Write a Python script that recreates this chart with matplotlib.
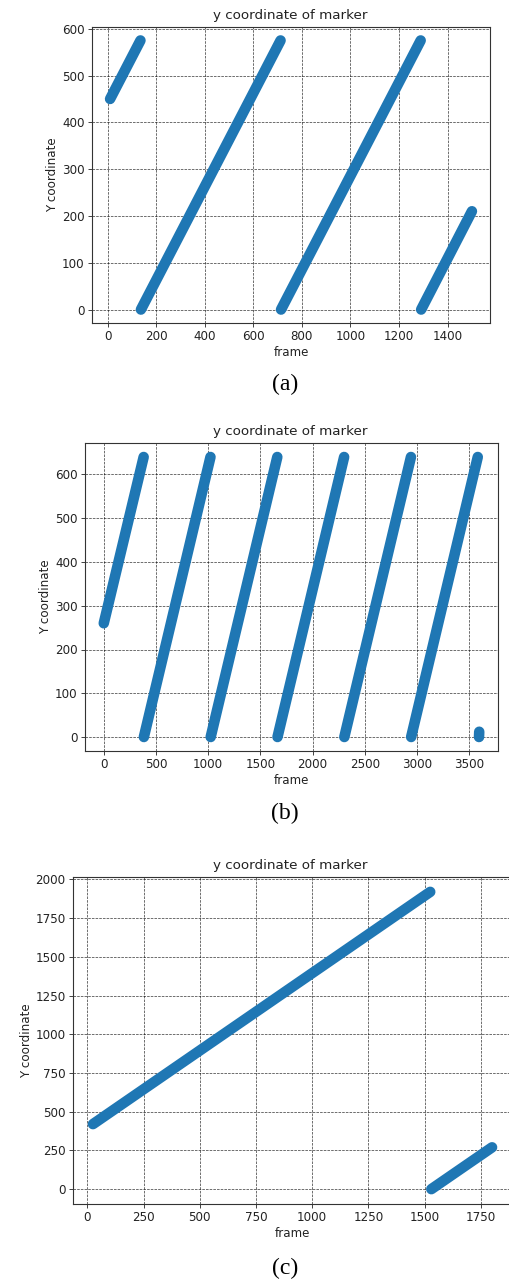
import matplotlib
matplotlib.use("Agg")
import matplotlib.pyplot as plt

# Tracked marker: each run is (start frame, end frame, start y, end y)
runs_a_frames = [(10, 135), (137, 712), (714, 1289), (1291, 1500)]
runs_a_y = [(450, 575), (0, 575), (0, 575), (0, 210)]

runs_b_frames = [(0, 382), (384, 1022), (1024, 1662), (1664, 2302),
                 (2304, 2942), (2944, 3582), (3594, 3596)]
runs_b_y = [(260, 640), (0, 640), (0, 640), (0, 640),
            (0, 640), (0, 640), (0, 12)]

runs_c_frames = [(25, 1525), (1530, 1800)]
runs_c_y = [(420, 1920), (0, 270)]

xticks_a = [0, 200, 400, 600, 800, 1000, 1200, 1400]
yticks_a = [0, 100, 200, 300, 400, 500, 600]
xticks_b = [0, 500, 1000, 1500, 2000, 2500, 3000, 3500]
yticks_b = [0, 100, 200, 300, 400, 500, 600]
xticks_c = [0, 250, 500, 750, 1000, 1250, 1500, 1750]
yticks_c = [0, 250, 500, 750, 1000, 1250, 1500, 1750, 2000]

captions = ["(a)", "(b)", "(c)"]

W, H = 509, 1281
fig = plt.figure(figsize=(W / 100, H / 100), dpi=100)
plt.rcParams["font.family"] = "DejaVu Sans"


def px_axes(left, top, right, bottom):
    return fig.add_axes([left / W, 1 - bottom / H, (right - left) / W, (bottom - top) / H])


panels = [
    (px_axes(92, 27, 490, 323), runs_a_frames, runs_a_y, xticks_a, yticks_a, 15, 384),
    (px_axes(85, 443, 498, 751), runs_b_frames, runs_b_y, xticks_b, yticks_b, 432, 813),
    (px_axes(73, 877, 512, 1204), runs_c_frames, runs_c_y, xticks_c, yticks_c, 865, 1268),
]

for (ax, frames, ys, xt, yt, title_y, cap_y), cap in zip(panels, captions):
    for (f0, f1), (y0, y1) in zip(frames, ys):
        ax.plot([f0, f1], [y0, y1], color="#1f77b4", lw=7.6,
                solid_capstyle="round")
    ax.set_xticks(xt)
    ax.set_yticks(yt)
    ax.tick_params(labelsize=8.6, colors="#222222", length=2.8, width=0.6, pad=2.5)
    ax.set_xlabel("frame", fontsize=8.6, labelpad=2, color="#222222")
    ax.set_ylabel("Y coordinate", fontsize=8.6, labelpad=2, color="#222222")
    ax.grid(True, color="k", linestyle="--", linewidth=0.5, alpha=0.8)
    for sp in ax.spines.values():
        sp.set_linewidth(0.8)
        sp.set_color("#333333")
    fig.text(290 / W, 1 - title_y / H, "y coordinate of marker", ha="center",
             va="center", fontsize=9.7, color="#222222")
    fig.text(285 / W, 1 - cap_y / H, cap, ha="center", va="center",
             fontsize=17, family="Liberation Serif")

fig.savefig("out.png", dpi=100)
